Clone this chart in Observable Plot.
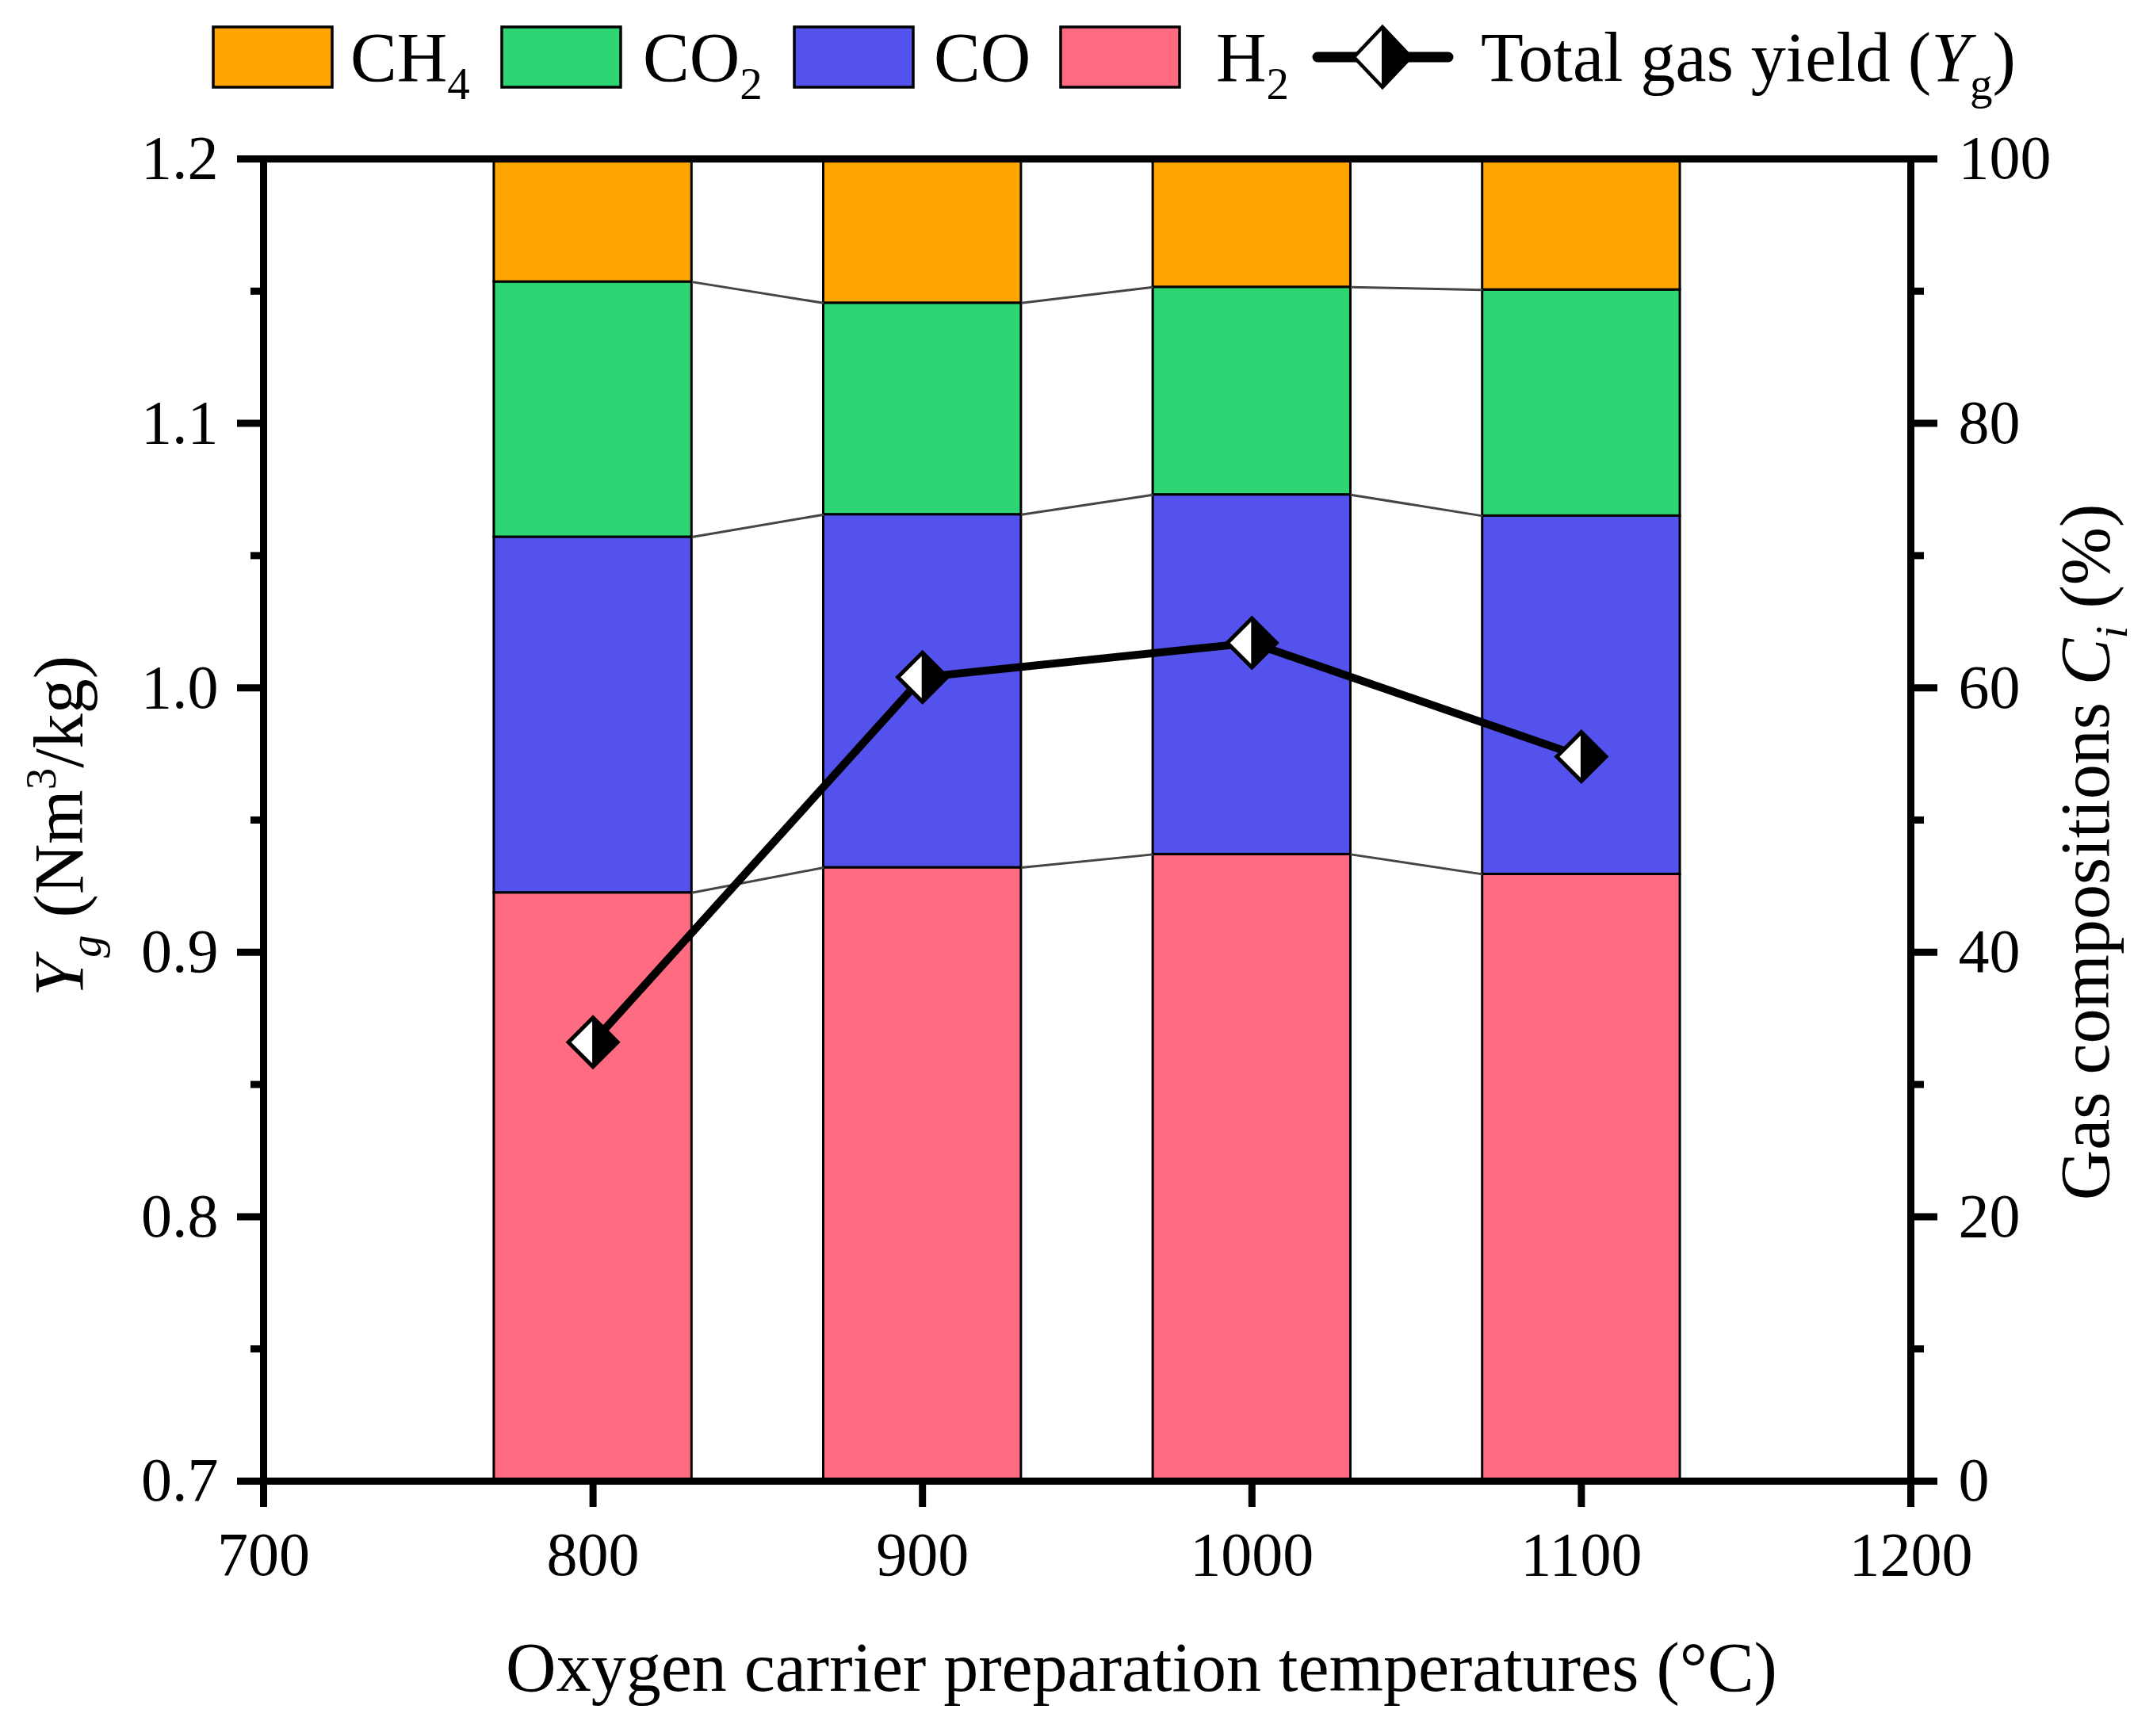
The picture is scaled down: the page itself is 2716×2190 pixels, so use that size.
<!DOCTYPE html>
<html><head><meta charset="utf-8">
<script src="https://cdn.jsdelivr.net/npm/d3@7"></script>
<script src="https://cdn.jsdelivr.net/npm/@observablehq/plot@0.6"></script>
<style>
html,body{margin:0;padding:0;background:#fff;}
svg{display:block;}
</style>
</head><body>
<div id="chart"></div>
<script>
// ---------------- data ----------------
const temperatures = [800, 900, 1000, 1100];
const gases = ["H2", "CO", "CO2", "CH4"];            // stacking order, bottom to top
const gasColors = ["#ff6b81", "#5352ed", "#2ed573", "#ffa502"];
const h2Pct  = [44.5, 46.4, 47.4, 45.9];
const coPct  = [26.9, 26.7, 27.2, 27.1];
const co2Pct = [19.3, 16.0, 15.7, 17.1];
const ch4Pct = [9.3, 10.9, 9.7, 9.9];
const totalYield = [0.866, 1.004, 1.017, 0.974];     // Nm3/kg
const xTicks = [700, 800, 900, 1000, 1100, 1200];
const pctTicks = [0, 20, 40, 60, 80, 100];
const pctMinorTicks = [10, 30, 50, 70, 90];
const yieldTickLabels = ["0.7", "0.8", "0.9", "1.0", "1.1", "1.2"];
const yieldDomain = [0.7, 1.2];
const barHalfWidth = 30;
const legendLabels = [["CH", "4"], ["CO", "2"], ["CO", ""], ["H", "2"]]; // CH4, CO2, CO, H2

// ---------------- derived tables ----------------
const series = [h2Pct, coPct, co2Pct, ch4Pct];
const rects = [];
const cum = series.map(() => []);
temperatures.forEach((t, i) => {
  let acc = 0;
  series.forEach((s, k) => {
    rects.push({t, gas: gases[k], y1: acc, y2: acc + s[i]});
    acc += s[i];
    cum[k][i] = acc;
  });
});
const links = [];
for (let k = 0; k < 3; k++) {
  for (let i = 0; i < temperatures.length - 1; i++) {
    links.push({x1: temperatures[i] + barHalfWidth, y1: cum[k][i],
                x2: temperatures[i + 1] - barHalfWidth, y2: cum[k][i + 1]});
  }
}
const pctOfYield = v => (v - yieldDomain[0]) / (yieldDomain[1] - yieldDomain[0]) * 100;
const yieldData = temperatures.map((t, i) => ({t, v: totalYield[i]}));

const diamondFull = {draw(ctx, size) {
  const r = Math.sqrt(size / Math.PI);
  ctx.moveTo(0, -r); ctx.lineTo(r, 0); ctx.lineTo(0, r); ctx.lineTo(-r, 0); ctx.closePath();
}};
const diamondRight = {draw(ctx, size) {
  const r = Math.sqrt(size / Math.PI);
  ctx.moveTo(0, -r); ctx.lineTo(r, 0); ctx.lineTo(0, r); ctx.closePath();
}};

const FONT = "'Liberation Serif', 'Times New Roman', serif";

// ---------------- legend (above the plot) ----------------
const legendSwatchX = [269, 633, 1002, 1338];
const legendTextX = [442, 811, 1178, 1534];
const legendColors = [gasColors[3], gasColors[2], gasColors[1], gasColors[0]];
const legend = d3.create("svg").attr("width", 2716).attr("height", 150)
  .style("font-family", FONT).style("background", "white");
legendLabels.forEach((lab, j) => {
  legend.append("rect").attr("x", legendSwatchX[j]).attr("y", 34).attr("width", 150).attr("height", 76)
    .attr("fill", legendColors[j]).attr("stroke", "black").attr("stroke-width", 3.5);
  const tx = legend.append("text").attr("x", legendTextX[j]).attr("y", 102).attr("font-size", 88).attr("fill", "black");
  tx.append("tspan").text(lab[0]);
  if (lab[1]) tx.append("tspan").attr("font-size", 57).attr("dy", 23).text(lab[1]);
});
legend.append("line").attr("x1", 1662).attr("x2", 1827).attr("y1", 72).attr("y2", 72)
  .attr("stroke", "black").attr("stroke-width", 13).attr("stroke-linecap", "round");
legend.append("path").attr("d", "M1744,34 L1780,72 L1744,110 L1708,72 Z")
  .attr("fill", "white").attr("stroke", "black").attr("stroke-width", 4.5);
legend.append("path").attr("d", "M1744,34 L1780,72 L1744,110 Z")
  .attr("fill", "black").attr("stroke", "black").attr("stroke-width", 2);
{
  const tx = legend.append("text").attr("x", 1868).attr("y", 102).attr("font-size", 88).attr("fill", "black");
  tx.append("tspan").text("Total gas yield (");
  tx.append("tspan").attr("font-style", "italic").text("Y");
  tx.append("tspan").attr("font-size", 57).attr("dy", 23).text("g");
  tx.append("tspan").attr("dy", -23).text(")");
}
document.getElementById("chart").appendChild(legend.node());

// ---------------- plot ----------------
const TICK = 33, MINOR = 16, TW = 9, FS = 78;
const plot = Plot.plot({
  width: 2716, height: 2040,
  marginTop: 50, marginBottom: 322, marginLeft: 332, marginRight: 306,
  style: {fontFamily: FONT, background: "white", color: "black", overflow: "visible"},
  x: {domain: [700, 1200], label: null},
  y: {domain: [0, 100], label: null},
  color: {domain: gases, range: gasColors},
  marks: [
    Plot.rect(rects, {x1: d => d.t - barHalfWidth, x2: d => d.t + barHalfWidth, y1: "y1", y2: "y2",
      fill: "gas", stroke: "black", strokeWidth: 3}),
    Plot.link(links, {x1: "x1", y1: "y1", x2: "x2", y2: "y2", stroke: "#454545", strokeWidth: 3}),
    Plot.line(yieldData, {x: "t", y: d => pctOfYield(d.v), stroke: "black", strokeWidth: 10}),
    Plot.dot(yieldData, {x: "t", y: d => pctOfYield(d.v), r: 31, symbol: diamondFull,
      fill: "white", stroke: "black", strokeWidth: 5}),
    Plot.dot(yieldData, {x: "t", y: d => pctOfYield(d.v), r: 31, symbol: diamondRight,
      fill: "black", stroke: "black", strokeWidth: 2}),
    Plot.frame({stroke: "black", strokeWidth: TW}),
    Plot.axisY(pctTicks, {anchor: "left", tickSize: TICK, tickPadding: 24, fontSize: FS, strokeWidth: TW,
      tickFormat: d => yieldTickLabels[pctTicks.indexOf(d)], label: null}),
    Plot.axisY(pctMinorTicks, {anchor: "left", tickSize: MINOR, strokeWidth: TW, tickFormat: () => "", label: null}),
    Plot.axisY(pctTicks, {anchor: "right", tickSize: TICK, tickPadding: 27, fontSize: FS, strokeWidth: TW,
      tickFormat: d => String(d), label: null}),
    Plot.axisY(pctMinorTicks, {anchor: "right", tickSize: MINOR, strokeWidth: TW, tickFormat: () => "", label: null}),
    Plot.axisX(xTicks, {anchor: "bottom", tickSize: TICK, tickPadding: 30, fontSize: FS, strokeWidth: TW,
      tickFormat: d => String(d), label: null})
  ]
});

const svg = d3.select(plot);
// x title
svg.append("text").attr("x", 1440).attr("y", 1983).attr("text-anchor", "middle")
  .attr("font-size", 88).attr("font-family", FONT).attr("fill", "black")
  .text("Oxygen carrier preparation temperatures (°C)");
// left title
{
  const t = svg.append("text").attr("transform", "translate(104,892) rotate(-90)")
    .attr("text-anchor", "middle").attr("font-size", 88).attr("font-family", FONT).attr("fill", "black");
  t.append("tspan").attr("font-style", "italic").text("Y");
  t.append("tspan").attr("font-style", "italic").attr("font-size", 57).attr("dy", 23).text("g");
  t.append("tspan").attr("dy", -23).text(" (Nm");
  t.append("tspan").attr("font-size", 55).attr("dy", -34).text("3");
  t.append("tspan").attr("dy", 34).text("/kg)");
}
// right title
{
  const t = svg.append("text").attr("transform", "translate(2660,925) rotate(-90)")
    .attr("text-anchor", "middle").attr("font-size", 88).attr("font-family", FONT).attr("fill", "black");
  t.append("tspan").text("Gas compositions ");
  t.append("tspan").attr("font-style", "italic").text("C");
  t.append("tspan").attr("font-style", "italic").attr("font-size", 57).attr("dy", 23).text("i");
  t.append("tspan").attr("dy", -23).text(" (%)");
}
document.getElementById("chart").appendChild(plot);
</script>
</body></html>
